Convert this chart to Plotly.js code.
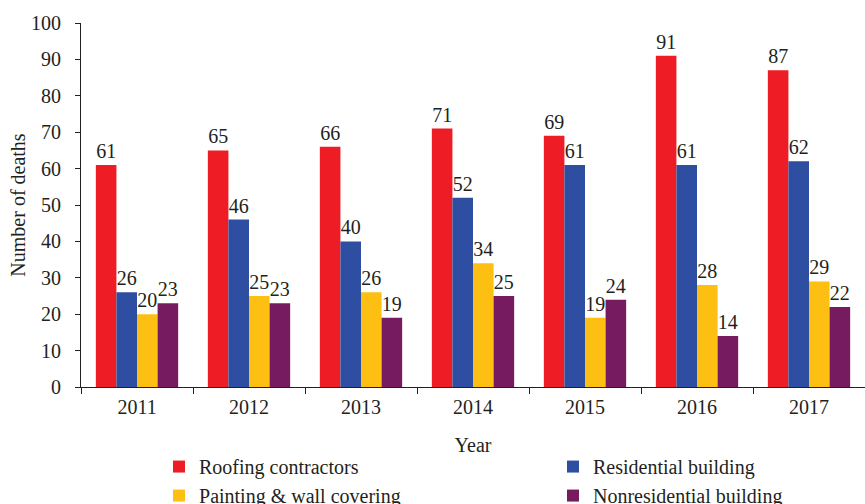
<!DOCTYPE html>
<html><head><meta charset="utf-8">
<script src="https://cdn.plot.ly/plotly-3.0.1.min.js"></script>
<style>html,body{margin:0;padding:0;background:#fff}</style>
</head><body>
<div id="chart" style="width:865px;height:504px"></div>
<script>
const years = ['2011','2012','2013','2014','2015','2016','2017'];
const roofing = [61,65,66,71,69,91,87];
const residential = [26,46,40,52,61,61,62];
const painting = [20,25,26,34,19,28,29];
const nonresidential = [23,23,19,25,24,14,22];
const seriesNames = ['Roofing contractors','Residential building','Painting & wall covering','Nonresidential building'];
const colors = ['#EE1C25','#2E4FA1','#FDBF12','#771B60'];
const allSeries = [roofing, residential, painting, nonresidential];

const FONT = 'Liberation Serif, Times New Roman, serif';
const INK = '#231F20';
const traces = allSeries.map((vals,i)=>({
  type:'bar', x:years, y:vals, name:seriesNames[i],
  marker:{color:colors[i], line:{width:0}},
  text:vals.map(String), textposition:'outside', constraintext:'none', cliponaxis:false,
  textfont:{family:FONT, size:20, color:INK}
}));

const layout = {
  width:865, height:504,
  margin:{l:81, r:0, t:23, b:117, autoexpand:false},
  paper_bgcolor:'#fff', plot_bgcolor:'#fff',
  font:{family:FONT, size:20, color:INK},
  barmode:'group', bargap:0.265, bargroupgap:0,
  showlegend:true,
  legend:{orientation:'h', x:0.0995, xanchor:'left', y:-0.165, yanchor:'top',
    entrywidth:349, entrywidthmode:'pixels', itemwidth:30,
    font:{family:FONT, size:20, color:INK}, traceorder:'normal'},
  xaxis:{
    type:'category', showline:true, linecolor:INK, linewidth:1,
    ticks:'outside', ticklen:6, tickcolor:INK, tickson:'boundaries',
    ticklabelstandoff:2,
    showgrid:false, zeroline:false,
    tickfont:{family:FONT, size:20, color:INK},
    title:{text:'Year', font:{family:FONT, size:20, color:INK}, standoff:20}
  },
  yaxis:{
    range:[0,100], dtick:10, showline:true, linecolor:INK, linewidth:1,
    ticks:'outside', ticklen:5, tickcolor:INK, showgrid:false, zeroline:false,
    ticklabelstandoff:10,
    tickfont:{family:FONT, size:20, color:INK},
    title:{text:'Number of deaths', font:{family:FONT, size:20, color:INK}, standoff:0}
  }
};
Plotly.newPlot('chart', traces, layout, {displayModeBar:false, staticPlot:true});
</script>
</body></html>
